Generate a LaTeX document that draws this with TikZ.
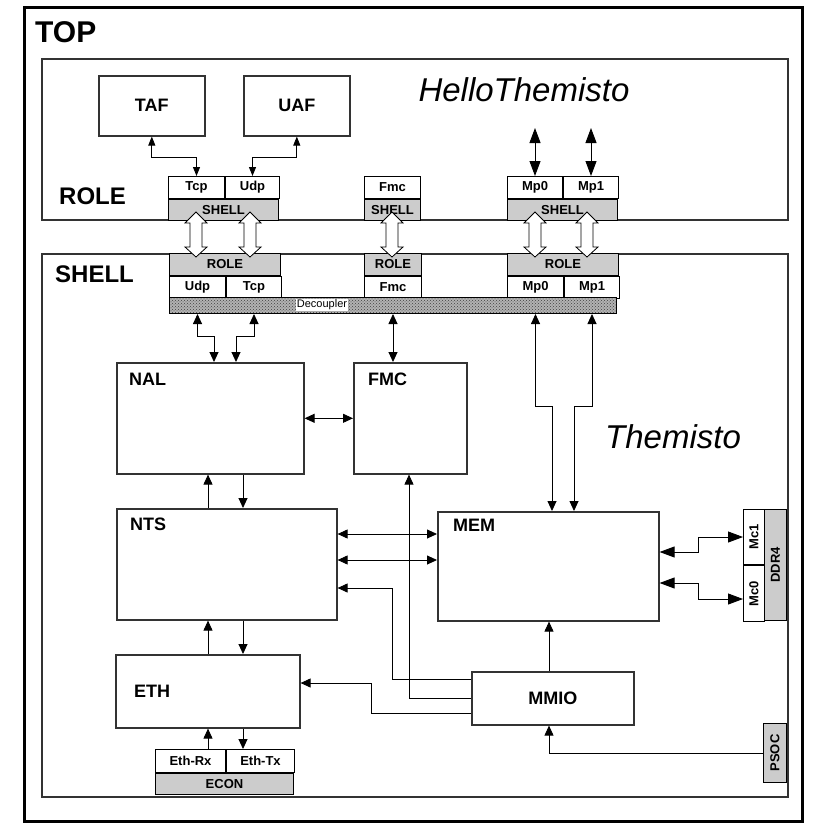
\documentclass[tikz,border=0pt]{standalone}
\usepackage{fontspec}
\setmainfont{Liberation Sans}
\usepackage{graphicx}
\usepackage{tikz}
\usetikzlibrary{positioning, arrows.meta, calc, patterns}
\definecolor{cellGrey}{HTML}{CCCCCC}
\definecolor{frameDark}{HTML}{333333}
\tikzset{
  region/.style={rectangle, draw=frameDark, line width=1.5pt, fill=white,
    anchor=north west, inner sep=0pt},
  block/.style={rectangle, draw=frameDark, line width=1.6pt, fill=white,
    anchor=north west, inner sep=0pt, font=\bfseries\fontsize{18}{18}\selectfont},
  blocklabel/.style={anchor=west, inner sep=0pt,
    font=\bfseries\fontsize{18}{18}\selectfont},
  title/.style={anchor=west, inner sep=0pt},
  cell/.style={rectangle, draw=black, line width=1pt, fill=white,
    anchor=north west, inner sep=0pt, minimum height=22pt,
    font=\bfseries\fontsize{13}{13}\selectfont},
  greycell/.style={cell, fill=cellGrey},
  decoupler/.style={rectangle, draw=black, line width=1pt, anchor=north west,
    inner sep=0pt, preaction={fill=black!30}, pattern=crosshatch dots,
    pattern color=black!75},
  link/.style={-{Triangle[length=10pt,width=9pt]}, line width=0.9pt},
  dlink/.style={{Triangle[length=10pt,width=9pt]}-{Triangle[length=10pt,width=9pt]},
    line width=0.9pt},
  slink/.style={{Triangle[length=9pt,width=7pt]}-{Triangle[length=9pt,width=7pt]},
    line width=0.8pt},
  biglink/.style={{Triangle[length=15pt,width=11pt]}-{Triangle[length=15pt,width=11pt]},
    line width=0.9pt},
}
\newcommand{\fatarrow}[1]{%
  \draw[line width=0.8pt, fill=white]
    (#1,212) -- (#1+11,223) -- (#1+6,223) -- (#1+6,247) -- (#1+11,247) --
    (#1,257) -- (#1-11,247) -- (#1-6,247) -- (#1-6,223) -- (#1-11,223) -- cycle;}

\begin{document}
\begin{tikzpicture}[x=1pt, y=-1pt]
    \useasboundingbox[fill=white] (0,0) rectangle (827,827);
    % frames
    \node[region, draw=black, line width=3pt, minimum width=778pt,
          minimum height=814pt] (topBox) at (23,6) {};
    \node[region, minimum width=746pt, minimum height=161pt] (roleBox) at (41,58) {};
    \node[region, minimum width=746pt, minimum height=543pt] (shellBox) at (41,253) {};
    \node[title, font=\bfseries\fontsize{30}{30}\selectfont] (topTxt) at (35,32) {TOP};
    \node[title, font=\bfseries\fontsize{24}{24}\selectfont] (roleTxt) at (59,196) {ROLE};
    \node[title, font=\bfseries\fontsize{24}{24}\selectfont] (shellTxt) at (55,274) {SHELL};
    \node[font=\itshape\fontsize{33}{33}\selectfont, inner sep=0pt]
      (helloTxt) at (524,90) {HelloThemisto};
    \node[font=\itshape\fontsize{33}{33}\selectfont, inner sep=0pt]
      (themTxt) at (673,437) {Themisto};
    % role side
    \node[block, minimum width=106pt, minimum height=60pt] (taf) at (98,75) {TAF};
    \node[block, minimum width=106pt, minimum height=60pt] (uaf) at (243,75) {UAF};
    \node[cell, minimum width=56pt] (tcpS) at (168,176) {Tcp};
    \node[cell, minimum width=54pt, right=0pt of tcpS] (udpS) {Udp};
    \node[greycell, minimum width=110pt, minimum height=21pt] (shellTU)
      at (tcpS.south west) {SHELL};
    \node[cell, minimum width=56pt] (fmcS) at (364,176) {Fmc};
    \node[greycell, minimum width=56pt, minimum height=21pt] (shellF)
      at (fmcS.south west) {SHELL};
    \node[cell, minimum width=55pt] (mp0S) at (507,176) {Mp0};
    \node[cell, minimum width=55pt, right=0pt of mp0S] (mp1S) {Mp1};
    \node[greycell, minimum width=110pt, minimum height=21pt] (shellMp)
      at (mp0S.south west) {SHELL};
    % shell side interfaces
    \node[greycell, minimum width=111pt] (roleTU) at (169,253) {ROLE};
    \node[cell, minimum width=56pt] (udpR) at (roleTU.south west) {Udp};
    \node[cell, minimum width=55pt, right=0pt of udpR] (tcpR) {Tcp};
    \node[greycell, minimum width=57pt] (roleF) at (364,253) {ROLE};
    \node[cell, minimum width=57pt] (fmcR) at (roleF.south west) {Fmc};
    \node[greycell, minimum width=111pt] (roleMp) at (507,253) {ROLE};
    \node[cell, minimum width=56pt] (mp0R) at (roleMp.south west) {Mp0};
    \node[cell, minimum width=55pt, right=0pt of mp0R] (mp1R) {Mp1};
    \node[decoupler, minimum width=447pt, minimum height=16pt] (dec) at (169,297) {};
    \node[fill=white, inner sep=1pt, font=\fontsize{11}{11}\selectfont]
      (decTxt) at (322,305) {Decoupler};
    % fat links role <-> shell
    \foreach \x in {196,250,392,535,587}
      \fatarrow{\x}
    % shell blocks
    \node[block, minimum width=187pt, minimum height=111pt,
          label={[blocklabel, xshift=13pt, yshift=-17pt]north west:NAL}] (nal) at (116,362) {};
    \node[block, minimum width=113pt, minimum height=111pt,
          label={[blocklabel, xshift=15pt, yshift=-17pt]north west:FMC}] (fmc) at (353,362) {};
    \node[block, minimum width=220pt, minimum height=111pt,
          label={[blocklabel, xshift=14pt, yshift=-16pt]north west:NTS}] (nts) at (116,508) {};
    \node[block, minimum width=221pt, minimum height=109pt,
          label={[blocklabel, xshift=16pt, yshift=-14pt]north west:MEM}] (mem) at (437,511) {};
    \node[block, minimum width=184pt, minimum height=73pt,
          label={[blocklabel, xshift=19pt]west:ETH}] (eth) at (115,654) {};
    \node[block, minimum width=162pt, minimum height=53pt] (mmio) at (471,671) {MMIO};
    \node[cell, minimum width=70pt, minimum height=23pt] (ethrx) at (155,749) {Eth-Rx};
    \node[cell, minimum width=68pt, minimum height=23pt, right=0pt of ethrx] (ethtx) {Eth-Tx};
    \node[greycell, minimum width=138pt, minimum height=21pt] (econ)
      at (ethrx.south west) {ECON};
    \node[cell, minimum width=21pt, minimum height=55pt] (mc1) at (743,509) {\rotatebox{90}{Mc1}};
    \node[cell, minimum width=21pt, minimum height=56pt] (mc0) at (mc1.south west) {\rotatebox{90}{Mc0}};
    \node[greycell, minimum width=22pt, minimum height=111pt] (ddr) at (764,509) {\rotatebox{90}{DDR4}};
    \node[greycell, minimum width=23pt, minimum height=59pt] (psoc) at (763,723) {\rotatebox{90}{PSOC}};
    % columns and rows of the links
    \coordinate (mpTop) at (0,128);
    \coordinate (nalA) at (214,0);
    \coordinate (nalB) at (236,0);
    \coordinate (memA) at (552,0);
    \coordinate (memB) at (574,0);
    \coordinate (upX) at (208,0);
    \coordinate (downX) at (243,0);
    \coordinate (busA) at (0,534);
    \coordinate (busB) at (0,560);
    \coordinate (busC) at (0,588);
    \coordinate (mmA) at (0,679);
    \coordinate (mmC) at (0,713);
    \coordinate (ntsCol) at (392,0);
    \coordinate (fmcCol) at (409,0);
    \coordinate (ethCol) at (371,0);
    \coordinate (ethRow) at (0,683);
    \coordinate (mmCol) at (549,0);
    \coordinate (ddrCol) at (698,0);
    \coordinate (memRowA) at (0,552);
    \coordinate (memRowB) at (0,583);
    \coordinate (mc0Row) at (0,599);
    % role links
    \draw[slink] (taf.south) -- ++(0,21) -| (tcpS.north);
    \draw[slink] (uaf.south) -- ++(0,21) -| (udpS.north);
    \draw[biglink] (mp0S.north) -- (mp0S.north |- mpTop);
    \draw[biglink] (mp1S.north) -- (mp1S.north |- mpTop);
    % decoupler links
    \draw[dlink] (udpR.south |- dec.south) -- ++(0,22) -| (nalA |- nal.north);
    \draw[dlink] (tcpR.south |- dec.south) -- ++(0,22) -| (nalB |- nal.north);
    \draw[dlink] (fmcR.south |- dec.south) -- (fmcR.south |- fmc.north);
    \draw[dlink] (mp0R.south |- dec.south) -- ++(0,92) -| (memA |- mem.north);
    \draw[dlink] (mp1R.south |- dec.south) -- ++(0,92) -| (memB |- mem.north);
    % network stack
    \draw[dlink] (nal.east) -- (nal.east -| fmc.west);
    \draw[link] (upX |- nts.north) -- (upX |- nal.south);
    \draw[link] (downX |- nal.south) -- (downX |- nts.north);
    \draw[link] (upX |- eth.north) -- (upX |- nts.south);
    \draw[link] (downX |- nts.south) -- (downX |- eth.north);
    \draw[link] (upX |- ethrx.north) -- (upX |- eth.south);
    \draw[link] (downX |- eth.south) -- (downX |- ethtx.north);
    \draw[dlink] (nts.east |- busA) -- (mem.west |- busA);
    \draw[dlink] (nts.east |- busB) -- (mem.west |- busB);
    % mmio links
    \draw[link] (mmio.west |- mmA) -| (ntsCol |- busC) -- (nts.east |- busC);
    \draw[link] (mmio.west) -| (fmcCol |- fmc.south);
    \draw[link] (mmio.west |- mmC) -| (ethCol |- ethRow) -- (eth.east |- ethRow);
    \draw[link] (mmCol |- mmio.north) -- (mmCol |- mem.south);
    \draw[link, line width=0.8pt] (psoc.west) -| (mmCol |- mmio.south);
    % memory channels
    \draw[biglink] (mem.east |- memRowA) -| (ddrCol |- mc1.west) -- (mc1.west);
    \draw[biglink] (mem.east |- memRowB) -| (ddrCol |- mc0Row) -- (mc0.west |- mc0Row);
  \end{tikzpicture}
\end{document}
